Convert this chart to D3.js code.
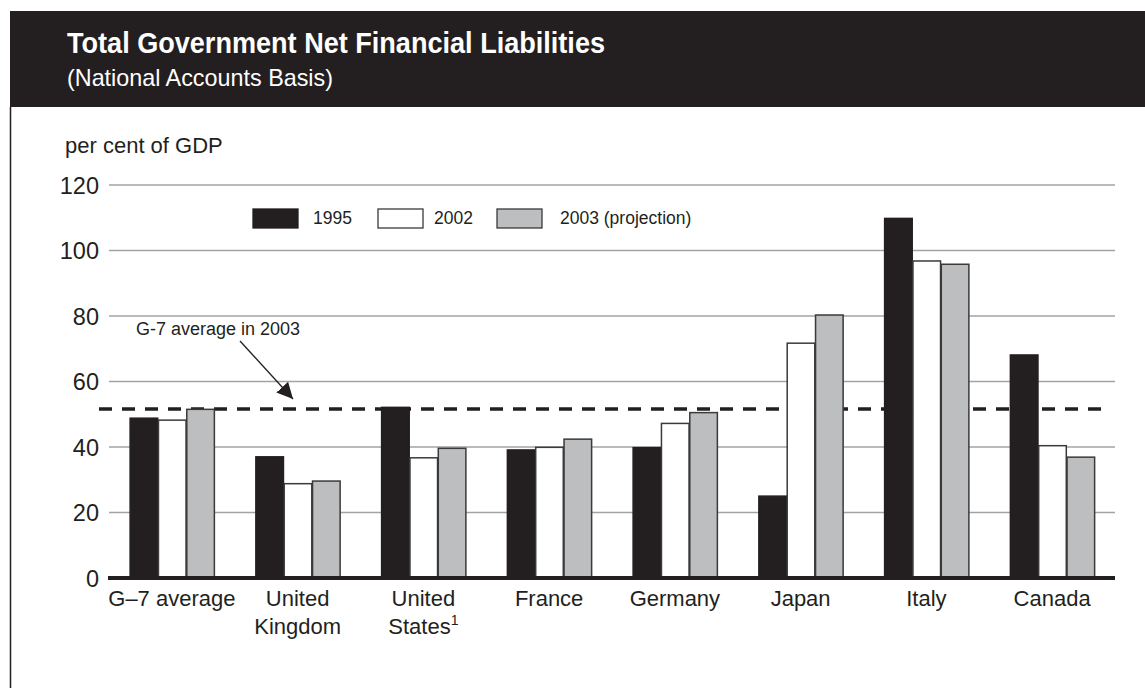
<!DOCTYPE html>
<html>
<head>
<meta charset="utf-8">
<script src="https://cdn.jsdelivr.net/npm/d3@7"></script>
<style>
  html, body { margin: 0; padding: 0; background: #fff; }
  svg { display: block; }
  text { font-family: "Liberation Sans", Arial, sans-serif; }
</style>
</head>
<body>
<svg id="chart" width="1145" height="688"></svg>
<script>
// ---- data ----
const categories = ["G–7 average", "United Kingdom", "United States", "France", "Germany", "Japan", "Italy", "Canada"];
const categoryLines = [["G–7 average"], ["United", "Kingdom"], ["United", "States"], ["France"], ["Germany"], ["Japan"], ["Italy"], ["Canada"]];
const seriesNames = ["1995", "2002", "2003 (projection)"];
const values1995 = [48.8, 37.0, 52.1, 39.1, 39.8, 25.0, 109.8, 68.1];
const values2002 = [48.2, 28.8, 36.7, 39.9, 47.2, 71.7, 96.8, 40.4];
const values2003 = [51.5, 29.6, 39.6, 42.4, 50.5, 80.3, 95.8, 36.9];
const g7Average2003 = 51.6;
const yTicks = [0, 20, 40, 60, 80, 100, 120];

const seriesValues = [values1995, values2002, values2003];
const fills = ["#231f20", "#ffffff", "#bcbec0"];
const strokes = ["#231f20", "#3a3a3a", "#3a3a3a"];

const svg = d3.select("#chart");

// ---- header ----
svg.append("rect").attr("x", 10).attr("y", 11).attr("width", 1135).attr("height", 96).attr("fill", "#231f20");
svg.append("line").attr("x1", 10.5).attr("x2", 10.5).attr("y1", 107).attr("y2", 688)
  .attr("stroke", "#231f20").attr("stroke-width", 1.5);
svg.append("text").attr("x", 67).attr("y", 53)
  .attr("fill", "#fff").attr("font-weight", "bold").attr("font-size", 29)
  .style("font-family", '"Liberation Sans Narrow", "Liberation Sans", Arial, sans-serif')
  .attr("textLength", 538).attr("lengthAdjust", "spacingAndGlyphs")
  .text("Total Government Net Financial Liabilities");
svg.append("text").attr("x", 67).attr("y", 86)
  .attr("fill", "#fff").attr("font-size", 24)
  .attr("textLength", 266).attr("lengthAdjust", "spacingAndGlyphs")
  .text("(National Accounts Basis)");

// ---- scales ----
const x0 = d3.scaleBand().domain(categories).range([109, 1115]).paddingInner(0.324).paddingOuter(0.162);
const x1 = d3.scaleBand().domain(seriesNames).range([0, x0.bandwidth()]).padding(0);
const y = d3.scaleLinear().domain([0, 120]).range([578, 185]);

// ---- y label ----
svg.append("text").attr("x", 65).attr("y", 153).attr("font-size", 22).attr("fill", "#231f20")
  .text("per cent of GDP");

// ---- gridlines & ticks ----
const yAxis = d3.axisLeft(y).tickValues(yTicks).tickSize(0).tickPadding(10);
const yg = svg.append("g").attr("transform", "translate(109,0)").call(yAxis);
yg.select(".domain").remove();
yg.selectAll("text").attr("font-size", 23.5).attr("fill", "#231f20")
  .style("font-family", '"Liberation Sans", Arial, sans-serif').attr("dy", "0.36em");

svg.append("g").selectAll("line").data(yTicks.filter(d => d > 0)).join("line")
  .attr("x1", 109).attr("x2", 1115)
  .attr("y1", d => y(d)).attr("y2", d => y(d))
  .attr("stroke", "#a3a3a3").attr("stroke-width", 1.5);

// ---- G-7 average dashed line (behind bars) ----
svg.append("line").attr("x1", 99).attr("x2", 1107)
  .attr("y1", y(g7Average2003)).attr("y2", y(g7Average2003))
  .attr("stroke", "#231f20").attr("stroke-width", 3.5).attr("stroke-dasharray", "13,10");

// ---- bars ----
const groups = svg.append("g").selectAll("g").data(categories).join("g")
  .attr("transform", d => `translate(${x0(d)},0)`);
groups.selectAll("rect").data((c, i) => seriesNames.map((s, j) => ({ s, j, v: seriesValues[j][i] })))
  .join("rect")
  .attr("x", d => x1(d.s) + 0.75)
  .attr("width", x1.bandwidth() - 0.75)
  .attr("y", d => y(d.v))
  .attr("height", d => y(0) - y(d.v))
  .attr("fill", d => fills[d.j])
  .attr("stroke", d => strokes[d.j])
  .attr("stroke-width", 1.5);

// ---- baseline ----
svg.append("line").attr("x1", 108).attr("x2", 1115).attr("y1", 578).attr("y2", 578)
  .attr("stroke", "#231f20").attr("stroke-width", 4);

// ---- category labels ----
const labels = svg.append("g").selectAll("text").data(categories).join("text")
  .attr("x", d => x0(d) + x0.bandwidth() / 2)
  .attr("y", 606)
  .attr("text-anchor", "middle")
  .attr("font-size", 22)
  .attr("fill", "#231f20");
labels.each(function (d, i) {
  const t = d3.select(this);
  categoryLines[i].forEach((line, k) => {
    const ts = t.append("tspan").attr("x", x0(d) + x0.bandwidth() / 2).attr("dy", k === 0 ? 0 : 28).text(line);
  });
  if (d === "United States") {
    t.append("tspan").attr("font-size", 14).attr("dy", -9).text("1");
  }
});

// ---- legend ----
const legendX = [253, 378, 497];
const legend = svg.append("g").selectAll("g").data(seriesNames).join("g")
  .attr("transform", (d, i) => `translate(${legendX[i]},209)`);
legend.append("rect").attr("width", 45).attr("height", 19)
  .attr("fill", (d, i) => fills[i]).attr("stroke", (d, i) => strokes[i]).attr("stroke-width", 1.3);
legend.append("text").attr("x", (d, i) => [60, 56, 63][i]).attr("y", 15)
  .attr("font-size", 17.5).attr("fill", "#231f20").text(d => d);

// ---- annotation ----
svg.append("text").attr("x", 136).attr("y", 335).attr("font-size", 18).attr("fill", "#231f20")
  .text("G-7 average in 2003");
svg.append("defs").append("marker").attr("id", "arrow")
  .attr("viewBox", "0 0 10 10").attr("refX", 10).attr("refY", 5)
  .attr("markerWidth", 16).attr("markerHeight", 16).attr("markerUnits", "userSpaceOnUse")
  .attr("orient", "auto")
  .append("path").attr("d", "M0,0 L10,5 L0,10 z").attr("fill", "#231f20");
svg.append("line").attr("x1", 240).attr("y1", 341).attr("x2", 293).attr("y2", 399)
  .attr("stroke", "#231f20").attr("stroke-width", 1.3).attr("marker-end", "url(#arrow)");
</script>
</body>
</html>
